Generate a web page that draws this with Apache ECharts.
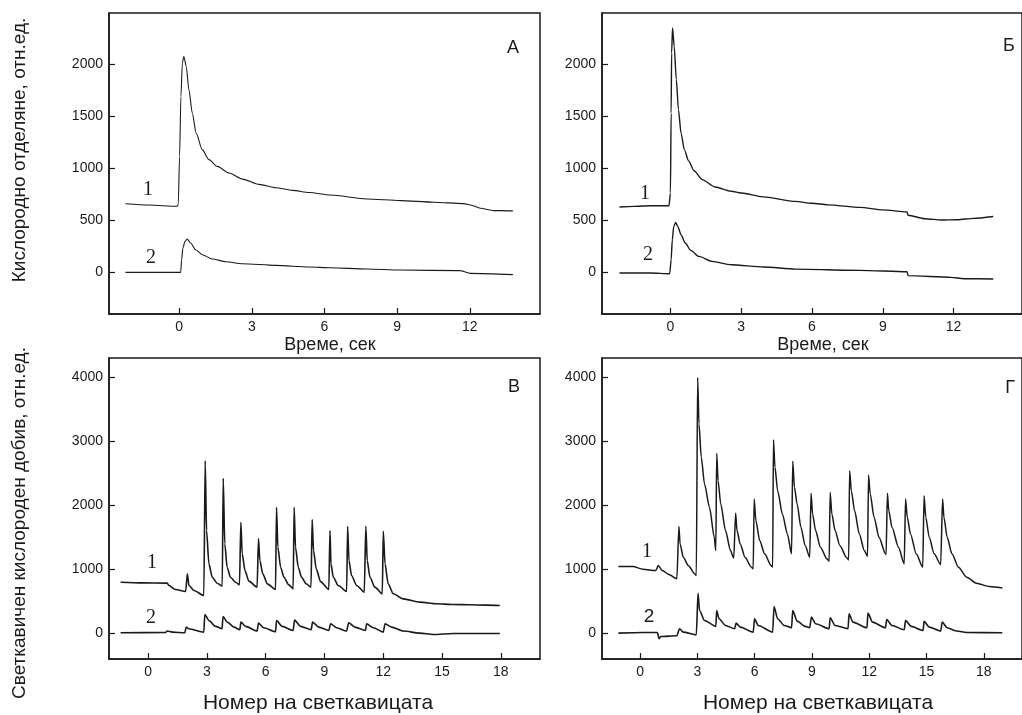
<!DOCTYPE html>
<html>
<head>
<meta charset="utf-8">
<script src="https://cdn.jsdelivr.net/npm/echarts@6/dist/echarts.min.js"></script>
<style>html,body{margin:0;padding:0;background:#fff}#c{width:1022px;height:715px}</style>
</head>
<body>
<div id="c"></div>
<script>
// ---- tick labels ----
var timeTicks = [0, 3, 6, 9, 12];
var flashTicks = [0, 3, 6, 9, 12, 15, 18];
var o2Ticks = [0, 500, 1000, 1500, 2000];
var yieldTicks = [0, 1000, 2000, 3000, 4000];

// ---- panel А : [time, value] ----
var A1 = [[-2.22,659],[-1.25,646],[-0.08,634],[-0.04,650],[0.015,1113],[0.07,1690],[0.13,2010],[0.19,2073],[0.29,1977],[0.40,1753],[0.54,1529],[0.70,1337],[0.95,1178],[1.23,1082],[1.57,1017],[2.06,954],[2.61,895],[3.30,845],[3.99,812],[4.68,787],[5.37,766],[6.24,742],[7.75,704],[9.13,689],[10.51,673],[11.75,660],[12.03,647],[12.44,615],[13.0,593],[13.27,593],[13.78,590]];
var A2 = [[-2.22,0],[0.06,0],[0.10,122],[0.15,233],[0.24,297],[0.33,320],[0.47,281],[0.68,217],[0.95,169],[1.37,128],[1.92,102],[2.61,83],[3.99,67],[5.37,51],[6.24,44],[7.75,32],[9.13,22],[11.6,16],[12.03,-10],[13.78,-22]];

// ---- panel Б ----
var B1 = [[-2.16,627],[-1.54,633],[-0.85,640],[-0.06,640],[0,761],[0.03,1529],[0.05,2106],[0.09,2346],[0.16,2170],[0.25,1850],[0.34,1562],[0.45,1337],[0.59,1178],[0.77,1070],[1.0,975],[1.35,890],[1.89,820],[2.58,778],[3.0,762],[3.92,725],[5.29,681],[6.0,663],[6.67,648],[8.04,624],[9.0,600],[10.03,580],[10.07,548],[10.79,515],[11.5,502],[12.16,505],[12.85,518],[13.68,536]];
var B2 = [[-2.16,-7],[-0.85,-7],[-0.03,-13],[0.03,121],[0.08,313],[0.14,441],[0.22,480],[0.31,441],[0.45,361],[0.63,281],[0.86,211],[1.21,153],[1.76,105],[2.58,73],[3.96,51],[5.29,31],[8.04,19],[10.03,6],[10.07,-32],[11.89,-48],[12.44,-61],[13.68,-64]];

// ---- panel В : [flash number, value] ----
var V1 = [[-1.41,792],[-0.30,781],[0.97,777],[1.06,740],[1.40,677],[1.91,646],[2.0,922],[2.08,740],[2.34,662],[2.84,584],[2.91,2693],[2.98,1600],[3.10,1078],[3.27,870],[3.52,776],[3.78,730],[3.83,2417],[3.91,1391],[4.03,1026],[4.2,870],[4.46,792],[4.66,750],[4.73,1730],[4.80,1235],[4.94,974],[5.14,808],[5.56,714],[5.63,1474],[5.70,1131],[5.85,922],[6.08,766],[6.50,677],[6.55,1964],[6.62,1339],[6.76,1026],[6.93,870],[7.18,750],[7.40,688],[7.45,1964],[7.52,1339],[7.66,1026],[7.83,870],[8.07,766],[8.31,714],[8.37,1771],[8.44,1287],[8.58,1000],[8.80,800],[9.22,677],[9.28,1599],[9.33,1078],[9.45,870],[9.70,740],[10.13,646],[10.18,1662],[10.25,1131],[10.38,896],[10.64,740],[11.03,636],[11.11,1667],[11.18,1131],[11.32,870],[11.57,714],[11.95,610],[12.0,1589],[12.09,1078],[12.25,766],[12.51,610],[13.02,531],[13.87,480],[14.72,454],[15.57,443],[16.43,438],[17.28,433],[17.95,428]];
var V2 = [[-1.41,0],[0.89,5],[0.97,27],[1.23,11],[1.87,0],[1.94,89],[2.07,63],[2.84,11],[2.89,287],[3.1,193],[3.44,100],[3.77,63],[3.82,255],[4.04,167],[4.38,89],[4.68,47],[4.73,167],[4.97,100],[5.56,27],[5.63,152],[5.9,79],[6.5,16],[6.55,193],[6.84,100],[7.4,37],[7.47,198],[7.78,100],[8.32,47],[8.39,167],[8.71,89],[9.22,37],[9.31,141],[9.62,79],[10.13,27],[10.23,157],[10.55,89],[11.09,37],[11.15,141],[11.49,79],[12.0,11],[12.09,141],[12.42,89],[13.02,27],[13.87,-5],[14.55,-26],[15.57,-10],[17.95,-10]];

// ---- panel Г ----
var G1 = [[-1.14,1037],[-0.38,1037],[0.14,995],[0.82,974],[0.95,1052],[1.16,974],[1.5,912],[1.92,844],[2.03,1662],[2.09,1391],[2.26,1183],[2.52,1052],[2.86,922],[2.94,896],[3.01,3995],[3.08,3266],[3.2,2745],[3.37,2329],[3.63,1964],[3.88,1495],[3.96,1287],[4.01,2808],[4.08,2381],[4.22,2016],[4.47,1599],[4.73,1287],[4.9,1167],[5.0,1870],[5.07,1599],[5.24,1391],[5.49,1183],[5.83,1026],[5.92,1000],[5.97,2094],[6.06,1756],[6.26,1443],[6.52,1235],[6.86,1052],[6.94,1026],[6.98,3021],[7.06,2589],[7.2,2224],[7.45,1860],[7.71,1547],[7.93,1235],[7.99,2683],[8.08,2276],[8.22,2016],[8.42,1650],[8.64,1365],[8.88,1183],[8.95,2183],[9.03,1860],[9.19,1599],[9.44,1339],[9.78,1157],[9.90,1120],[9.95,2198],[10.04,1860],[10.21,1599],[10.46,1365],[10.8,1183],[10.92,1141],[10.97,2537],[11.06,2224],[11.23,1912],[11.48,1547],[11.74,1287],[11.91,1193],[11.96,2469],[12.05,2172],[12.25,1808],[12.51,1495],[12.85,1235],[12.88,1224],[12.95,2183],[13.02,1912],[13.19,1651],[13.53,1339],[13.83,1078],[13.9,2094],[13.99,1808],[14.16,1547],[14.46,1235],[14.8,1026],[14.87,2146],[14.96,1808],[15.14,1495],[15.4,1235],[15.74,1068],[15.84,2094],[15.91,1808],[16.08,1495],[16.33,1235],[16.67,1026],[17.1,870],[17.61,776],[18.29,724],[18.97,700]];
var G2 = [[-1.14,-5],[0.14,5],[0.9,5],[0.99,-93],[1.07,-57],[1.92,-46],[2.06,63],[2.26,11],[2.94,-31],[3.03,620],[3.11,349],[3.37,193],[3.96,100],[4.01,349],[4.13,219],[4.47,115],[4.95,63],[5.02,152],[5.24,89],[5.92,11],[5.99,219],[6.18,115],[6.94,11],[7.01,412],[7.2,219],[7.54,115],[7.93,79],[7.99,349],[8.22,183],[8.64,100],[8.88,79],[8.97,245],[9.19,141],[9.9,63],[9.95,235],[10.21,115],[10.89,63],[10.94,297],[11.14,167],[11.88,79],[11.93,308],[12.17,167],[12.85,79],[12.91,209],[13.19,115],[13.83,47],[13.9,193],[14.2,100],[14.82,37],[14.87,178],[15.14,89],[15.74,27],[15.82,167],[16.08,79],[16.59,27],[17.1,5],[18.97,0]];

var SANS = '"Liberation Sans", Arial, sans-serif';
var SERIF = '"Liberation Serif", "Times New Roman", serif';
var INK = '#1a1a1a';

var grids = [
  {left:109, top:13, width:431, height:301},
  {left:602, top:13, width:431, height:301},
  {left:109, top:358, width:431, height:301},
  {left:602, top:358, width:431, height:301}
].map(function(g){ return Object.assign({show:true, borderColor:INK, borderWidth:1.5, backgroundColor:'transparent'}, g); });

function plain(v){ return String(v); }
function ax(i, min, max, ticks){
  return {type:'value', gridIndex:i, min:min, max:max,
    axisLine:{show:true, onZero:false, lineStyle:{color:INK, width:1.5}},
    splitLine:{show:false},
    axisTick:{show:true, inside:true, length:6, lineStyle:{color:INK, width:1.2}, customValues:ticks},
    axisLabel:{customValues:ticks, margin:6, fontFamily:SANS, fontSize:14, color:INK, formatter:plain}};
}
function line(i, data, w){
  return {type:'line', xAxisIndex:i, yAxisIndex:i, data:data, symbol:'none', smooth:0.25, smoothMonotone:'x',
    lineStyle:{color:INK, width:w}, animation:false, silent:true};
}
function txt(x, y, s, font, size, rot){
  return {type:'text', x:x, y:y, rotation:rot||0, silent:true,
    style:{text:s, fontFamily:font, fontSize:size, fill:INK, align:'center', verticalAlign:'middle'}};
}

var option = {
  animation:false,
  backgroundColor:'#fff',
  grid: grids,
  xAxis:[ax(0,-2.9,14.9,timeTicks), ax(1,-2.9,14.9,timeTicks), ax(2,-2,20,flashTicks), ax(3,-2,20,flashTicks)],
  yAxis:[ax(0,-400,2490,o2Ticks), ax(1,-400,2490,o2Ticks), ax(2,-410,4300,yieldTicks), ax(3,-410,4300,yieldTicks)],
  series:[line(0,A1,1.1), line(0,A2,1.1), line(1,B1,1.4), line(1,B2,1.4), line(2,V1,1.6), line(2,V2,1.6), line(3,G1,1.5), line(3,G2,1.6)],
  graphic:[
    txt(20, 150, 'Кислородно отделяне, отн.ед.', SANS, 19, Math.PI/2),
    txt(20, 523, 'Светкавичен кислороден добив, отн.ед.', SANS, 19, Math.PI/2),
    txt(330, 345, 'Време, сек', SANS, 18),
    txt(823, 345, 'Време, сек', SANS, 18),
    txt(318, 703, 'Номер на светкавицата', SANS, 21),
    txt(818, 703, 'Номер на светкавицата', SANS, 21),
    txt(513, 48, 'А', SANS, 18),
    txt(1009, 46, 'Б', SANS, 18),
    txt(514, 387, 'В', SANS, 18),
    txt(1010, 388, 'Г', SANS, 18),
    txt(148, 190, '1', SERIF, 20),
    txt(151, 258, '2', SERIF, 20),
    txt(645, 194, '1', SERIF, 20),
    txt(648, 255, '2', SERIF, 20),
    txt(152, 563, '1', SERIF, 20),
    txt(151, 618, '2', SERIF, 20),
    txt(647, 552, '1', SERIF, 20),
    txt(649, 617, '2', SANS, 19)
  ]
};
var chart = echarts.init(document.getElementById('c'), null, {renderer:'canvas'});
chart.setOption(option);
</script>
</body>
</html>
